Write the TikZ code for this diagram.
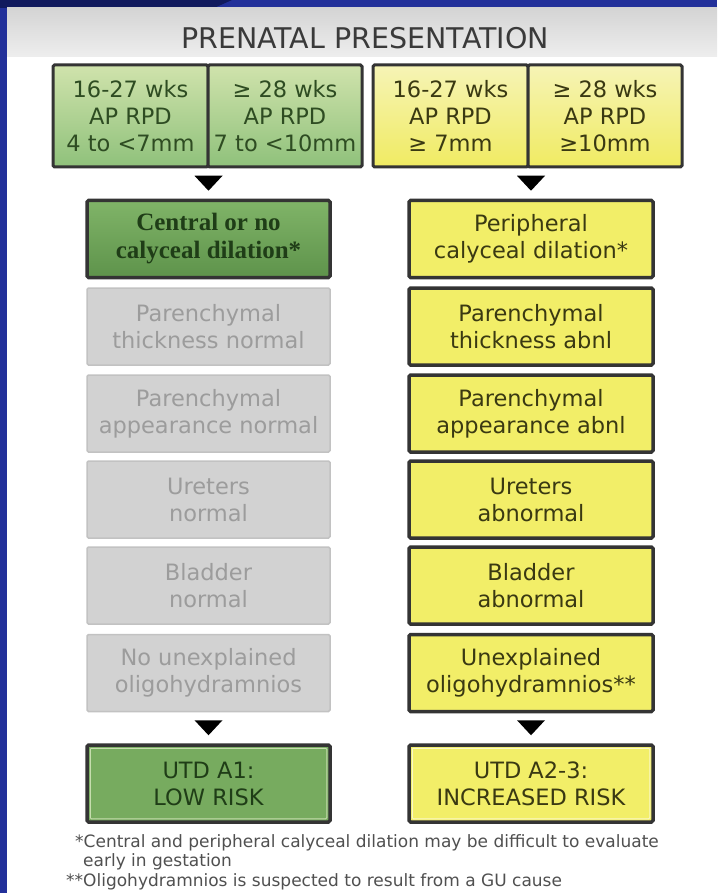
\documentclass[tikz,border=0pt]{standalone}
\usepackage{fontspec}
\setmainfont{DejaVu Sans}
\newfontfamily\boldserif{Liberation Serif}
\usetikzlibrary{calc}
\definecolor{bgblue}{HTML}{22309A}
\definecolor{navy}{HTML}{111A5E}
\definecolor{bandtop}{HTML}{D4D4D4}
\definecolor{bandbot}{HTML}{EEEEEE}
\definecolor{titletx}{HTML}{3A3A3A}
\definecolor{bordk}{HTML}{343434}
\definecolor{greenlt}{HTML}{D0E3AC}
\definecolor{greenmd}{HTML}{8FC17B}
\definecolor{greentx}{HTML}{2E4C22}
\definecolor{greendk1}{HTML}{80B468}
\definecolor{greendk2}{HTML}{5E934B}
\definecolor{greendktx}{HTML}{1F3D17}
\definecolor{greenfin}{HTML}{77AB5F}
\definecolor{greeninner}{HTML}{C6DDAE}
\definecolor{yellowlt}{HTML}{F6F4B6}
\definecolor{yellowmd}{HTML}{F0EB62}
\definecolor{yellowfill}{HTML}{F2EE68}
\definecolor{yellowinner}{HTML}{FAF8C8}
\definecolor{yellowtx}{HTML}{3A3912}
\definecolor{grayfill}{HTML}{D2D2D2}
\definecolor{grayborder}{HTML}{C2C2C2}
\definecolor{graytx}{HTML}{9C9C9C}
\definecolor{notetx}{HTML}{505050}
\begin{document}
\begin{tikzpicture}[x=1pt,y=-1pt,
  cell/.style={draw=bordk, line width=3pt, rounded corners=1.5pt, minimum height=102pt,
    align=center, inner sep=0pt, font=\fontsize{22.5}{27}\selectfont},
  greencell/.style={cell, top color=greenlt, bottom color=greenmd, text=greentx},
  yellowcell/.style={cell, top color=yellowlt, bottom color=yellowmd, text=yellowtx},
  rowbox/.style={rounded corners=1.5pt, minimum height=77pt, align=center, inner sep=0pt,
    font=\fontsize{22.5}{27}\selectfont},
  graybox/.style={rowbox, minimum width=243pt, fill=grayfill, draw=grayborder, line width=1.5pt, text=graytx},
  yellowbox/.style={rowbox, minimum width=244pt, fill=yellowfill, draw=bordk, line width=3.5pt, text=yellowtx},
  greenbox/.style={rowbox, minimum width=243pt, draw=bordk, line width=3.5pt},
  note/.style={anchor=west, inner sep=0pt, text=notetx, font=\fontsize{17}{20}\selectfont},
  tri/.style={fill=black}
]
\useasboundingbox (0,0) rectangle (717,893);
% background
\fill[bgblue] (0,0) rectangle (717,893);
\fill[navy] (0,0) -- (232,0) -- (214,8) -- (0,8) -- cycle;
\fill[white] (7,8) rectangle (717,893);
\shade[top color=bandtop, bottom color=bandbot] (7,8) rectangle (717,57);
\node[text=titletx, font=\fontsize{28.5}{31}\selectfont, inner sep=0pt] (title) at (365,38) {PRENATAL PRESENTATION};

% top cells
\node[greencell, minimum width=155pt] (g1) at (130.5,116) {16-27 wks\\AP RPD\\4 to <7mm};
\node[greencell, minimum width=154pt] (g2) at (285,116) {≥ 28 wks\\AP RPD\\7 to <10mm};
\node[yellowcell, minimum width=155pt] (y1) at (450.5,116) {16-27 wks\\AP RPD\\≥ 7mm};
\node[yellowcell, minimum width=154pt] (y2) at (605,116) {≥ 28 wks\\AP RPD\\≥10mm};

% left column
\node[greenbox, top color=greendk1, bottom color=greendk2, text=greendktx,
  font=\boldserif\bfseries\fontsize{25}{28}\selectfont] (l1) at (208.5,239) {Central or no\\calyceal dilation*};
\node[graybox] (l2) at (208.5,326.5) {Parenchymal\\thickness normal};
\node[graybox] (l3) at (208.5,413.5) {Parenchymal\\appearance normal};
\node[graybox] (l4) at (208.5,499.5) {Ureters\\normal};
\node[graybox] (l5) at (208.5,585.5) {Bladder\\normal};
\node[graybox] (l6) at (208.5,673) {No unexplained\\oligohydramnios};
\node[greenbox, fill=greenfin, text=greendktx] (lf) at (208.5,783.5) {UTD A1:\\LOW RISK};
\draw[greeninner, line width=1pt, rounded corners=1pt] ($(lf.north west)+(5,5)$) rectangle ($(lf.south east)+(-5,-5)$);

% right column
\node[yellowbox] (r1) at (531,239) {Peripheral\\calyceal dilation*};
\node[yellowbox] (r2) at (531,326.5) {Parenchymal\\thickness abnl};
\node[yellowbox] (r3) at (531,413.5) {Parenchymal\\appearance abnl};
\node[yellowbox] (r4) at (531,499.5) {Ureters\\abnormal};
\node[yellowbox] (r5) at (531,585.5) {Bladder\\abnormal};
\node[yellowbox] (r6) at (531,673) {Unexplained\\oligohydramnios**};
\node[yellowbox] (rf) at (531,783.5) {UTD A2-3:\\INCREASED RISK};
\draw[yellowinner, line width=1pt, rounded corners=1pt] ($(rf.north west)+(5,5)$) rectangle ($(rf.south east)+(-5,-5)$);

% arrowheads
\coordinate (al1) at ($(l1.north)+(0,-23)$);
\coordinate (ar1) at ($(r1.north)+(0,-23)$);
\coordinate (al2) at ($(lf.north)+(0,-23)$);
\coordinate (ar2) at ($(rf.north)+(0,-23)$);
\foreach \c in {al1,ar1,al2,ar2}{
  \fill[tri] (\c) ++(-14,0) -- ++(28,0) -- ++(-14,15) -- cycle;
}

% footnotes
\node[note] (n1) at (75,843) {*Central and peripheral calyceal dilation may be difficult to evaluate};
\node[note] (n2) at (83,862) {early in gestation};
\node[note] (n3) at (66,882) {**Oligohydramnios is suspected to result from a GU cause};
\end{tikzpicture}
\end{document}
